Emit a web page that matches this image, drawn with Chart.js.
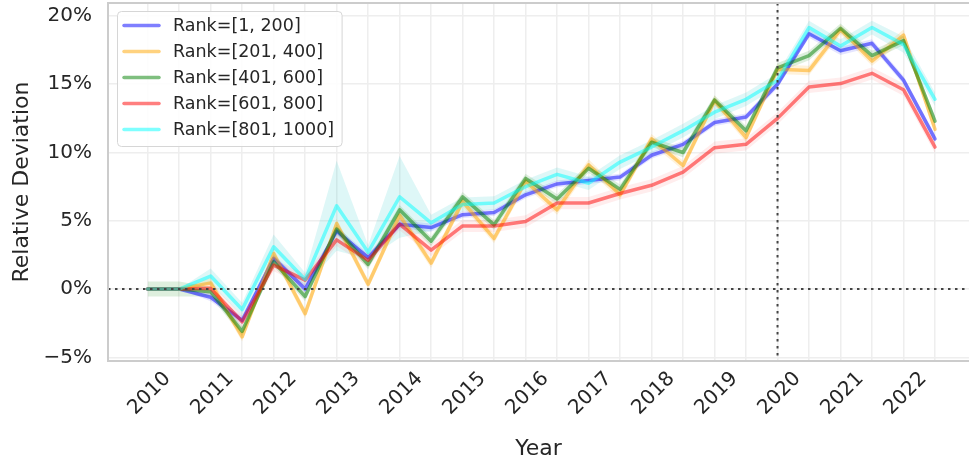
<!DOCTYPE html>
<html><head><meta charset="utf-8">
<script src="https://cdn.jsdelivr.net/npm/chart.js@4"></script>
<style>html,body{margin:0;padding:0;background:#fff;}#wrap{position:relative;width:969px;height:465px;}</style>
</head><body><div id="wrap"><canvas id="c" width="969" height="465"></canvas></div>
<script>
const years = [2010, 2010.5, 2011, 2011.5, 2012, 2012.5, 2013, 2013.5, 2014, 2014.5, 2015, 2015.5, 2016, 2016.5, 2017, 2017.5, 2018, 2018.5, 2019, 2019.5, 2020, 2020.5, 2021, 2021.5, 2022, 2022.5];
const yearLabels = ['2010','2011','2012','2013','2014','2015','2016','2017','2018','2019','2020','2021','2022'];
const yTicks = [-5, 0, 5, 10, 15, 20];
const seriesNames = ['Rank=[1, 200]', 'Rank=[201, 400]', 'Rank=[401, 600]', 'Rank=[601, 800]', 'Rank=[801, 1000]'];

const rank1_200   = [0, 0, -0.6, -2.3, 2.25, 0.0, 4.25, 2.3, 4.75, 4.5, 5.45, 5.6, 6.9, 7.7, 7.95, 8.2, 9.8, 10.6, 12.2, 12.6, 15.0, 18.7, 17.45, 18.0, 15.3, 11.0];
const rank201_400 = [0, 0, 0.45, -3.5, 2.6, -1.8, 4.8, 0.35, 5.4, 1.9, 6.4, 3.7, 7.9, 5.8, 9.1, 6.9, 11.0, 9.05, 13.8, 11.1, 16.1, 16.0, 19.0, 16.7, 18.6, 11.7];
const rank401_600 = [0, 0, -0.2, -3.1, 2.0, -0.55, 4.4, 1.8, 5.8, 3.5, 6.75, 4.7, 8.1, 6.6, 8.85, 7.3, 10.75, 10.0, 13.85, 11.6, 16.2, 17.1, 19.1, 17.1, 18.2, 12.3];
const rank601_800 = [0, 0, 0.05, -2.4, 1.75, 0.65, 3.6, 2.1, 4.75, 2.85, 4.62, 4.62, 4.95, 6.3, 6.3, 7.0, 7.6, 8.56, 10.35, 10.6, 12.5, 14.8, 15.05, 15.8, 14.6, 10.4];
const rank801_1000= [0, 0, 0.95, -1.5, 3.1, 0.7, 6.1, 2.7, 6.75, 4.85, 6.2, 6.3, 7.5, 8.4, 7.75, 9.3, 10.4, 11.6, 12.95, 13.9, 15.3, 19.15, 17.8, 19.15, 17.9, 13.9];

const ci1_200    = [0, 0, 0.3, 0.3, 0.3, 0.3, 0.3, 0.3, 0.3, 0.3, 0.25, 0.25, 0.25, 0.25, 0.25, 0.25, 0.25, 0.25, 0.25, 0.25, 0.3, 0.3, 0.3, 0.3, 0.3, 0.3];
const ci201_400  = [0, 0, 0.35, 0.35, 0.35, 0.35, 0.35, 0.35, 0.35, 0.35, 0.35, 0.35, 0.35, 0.35, 0.4, 0.35, 0.35, 0.35, 0.35, 0.35, 0.35, 0.35, 0.35, 0.35, 0.4, 0.35];
const ci401_600  = [0.55, 0.55, 0.35, 0.35, 0.35, 0.35, 0.35, 0.35, 0.35, 0.35, 0.35, 0.35, 0.35, 0.35, 0.35, 0.35, 0.35, 0.35, 0.35, 0.35, 0.35, 0.35, 0.35, 0.35, 0.35, 0.35];
const ci601_800  = [0, 0, 0.45, 0.45, 0.45, 0.45, 0.45, 0.45, 0.45, 0.45, 0.45, 0.45, 0.45, 0.45, 0.45, 0.45, 0.45, 0.45, 0.45, 0.45, 0.45, 0.45, 0.45, 0.45, 0.45, 0.45];
const ci801_1000 = [0, 0, 0.55, 0.5, 0.9, 0.5, 3.3, 0.5, 3.0, 0.6, 0.5, 0.5, 0.5, 0.5, 0.5, 0.5, 0.5, 0.5, 0.5, 0.5, 0.5, 0.5, 0.5, 0.5, 0.6, 0.5];

const seriesValues = [rank1_200, rank201_400, rank401_600, rank601_800, rank801_1000];
const seriesCI = [ci1_200, ci201_400, ci401_600, ci601_800, ci801_1000];
const rgb = ['0,0,255', '255,165,0', '0,128,0', '255,0,0', '0,255,255'];
const bandRgba = ['rgba(0,0,255,0.10)', 'rgba(255,165,0,0.14)', 'rgba(0,128,0,0.13)', 'rgba(255,0,0,0.07)', 'rgba(0,190,190,0.13)'];

Chart.defaults.font.family = "'DejaVu Sans', sans-serif";
Chart.defaults.color = '#262626';

const datasets = [];
seriesValues.forEach((vals, i) => {
  const ci = seriesCI[i];
  const lowIdx = datasets.length;
  datasets.push({ label: '_lo' + i, data: years.map((x, k) => ({x, y: vals[k] - ci[k]})), borderWidth: 0, pointRadius: 0, fill: false, order: 100 });
  datasets.push({ label: '_hi' + i, data: years.map((x, k) => ({x, y: vals[k] + ci[k]})), borderWidth: 0, pointRadius: 0,
    fill: {target: lowIdx}, backgroundColor: bandRgba[i], order: 100 });
});
seriesValues.forEach((vals, i) => {
  datasets.push({ label: seriesNames[i], data: years.map((x, k) => ({x, y: vals[k]})), borderColor: 'rgba(' + rgb[i] + ',0.5)',
    borderWidth: 3.5, pointRadius: 0, fill: false, tension: 0, order: 10 - i, borderJoinStyle: 'round', borderCapStyle: 'round' });
});

const decor = {
  id: 'decor',
  afterDatasetsDraw(chart) {
    const {ctx, chartArea: a, scales: {x, y}} = chart;
    ctx.save();
    ctx.strokeStyle = '#444';
    ctx.lineWidth = 2;
    ctx.setLineDash([2.5, 4.5]);
    const y0 = y.getPixelForValue(0);
    ctx.beginPath(); ctx.moveTo(a.left, y0); ctx.lineTo(a.right, y0); ctx.stroke();
    const x0 = x.getPixelForValue(2020);
    ctx.beginPath(); ctx.moveTo(x0, a.top); ctx.lineTo(x0, a.bottom); ctx.stroke();
    ctx.setLineDash([]);
    ctx.strokeStyle = '#cccccc';
    ctx.lineWidth = 2;
    ctx.beginPath();
    ctx.moveTo(a.right + 2, a.top); ctx.lineTo(a.left, a.top); ctx.lineTo(a.left, a.bottom); ctx.lineTo(a.right + 2, a.bottom);
    ctx.stroke();
    // legend
    ctx.font = "17.5px 'DejaVu Sans'";
    let tw = 0;
    seriesNames.forEach(n => { tw = Math.max(tw, ctx.measureText(n).width); });
    const bx = a.left + 9.5, by = a.top + 8.5, rowH = 26, textX = a.left + 65;
    const bw = textX - bx + tw + 8, bh = 135;
    ctx.beginPath();
    ctx.roundRect(bx, by, bw, bh, 4);
    ctx.fillStyle = 'rgba(255,255,255,0.85)';
    ctx.fill();
    ctx.strokeStyle = '#d6d6d6';
    ctx.lineWidth = 1;
    ctx.stroke();
    seriesNames.forEach((n, i) => {
      const ry = by + 14 + i * rowH;
      ctx.strokeStyle = 'rgba(' + rgb[i] + ',0.5)';
      ctx.lineWidth = 3.5;
      ctx.lineCap = 'round';
      ctx.beginPath(); ctx.moveTo(a.left + 16, ry); ctx.lineTo(a.left + 51, ry); ctx.stroke();
      ctx.fillStyle = '#262626';
      ctx.textBaseline = 'middle';
      ctx.textAlign = 'left';
      ctx.fillText(n, textX, ry + 1);
    });
    ctx.restore();
  }
};

new Chart(document.getElementById('c'), {
  type: 'line',
  data: { datasets },
  options: {
    responsive: false,
    animation: false,
    devicePixelRatio: 1,
    layout: { padding: { top: 3, right: 0, left: 0, bottom: 0 } },
    plugins: { legend: { display: false }, tooltip: { enabled: false } },
    scales: {
      x: {
        type: 'linear', min: 2009.37, max: 2023.04,
        afterBuildTicks: s => { s.ticks = years.map(v => ({value: v})); },
        afterFit: s => { s.height = 104; s.paddingLeft = 0; s.paddingRight = 0; },
        ticks: {
          autoSkip: false, maxRotation: 45, minRotation: 45, padding: 6, labelOffset: 20,
          font: { size: 20 }, color: '#262626',
          callback: v => yearLabels.includes(String(v)) ? String(v) : ''
        },
        grid: { color: '#eeeeee', lineWidth: 1.5, drawTicks: false },
        border: { display: false },
        title: { display: true, text: 'Year', font: { size: 22 }, color: '#262626', padding: { top: 0, bottom: 3 } }
      },
      y: {
        type: 'linear', min: -5.27, max: 20.95,
        afterBuildTicks: s => { s.ticks = yTicks.map(v => ({value: v})); },
        afterFit: s => { s.width = 108; s.paddingTop = 0; s.paddingBottom = 0; },
        ticks: {
          padding: 16, font: { size: 20 }, color: '#262626',
          callback: v => (v < 0 ? '\u2212' : '') + Math.abs(v) + '%'
        },
        grid: { color: '#eeeeee', lineWidth: 1.5, drawTicks: false },
        border: { display: false },
        title: { display: true, text: 'Relative Deviation', font: { size: 22 }, color: '#262626', padding: { top: 9, bottom: 0 } }
      }
    }
  },
  plugins: [decor]
});
</script></body></html>
